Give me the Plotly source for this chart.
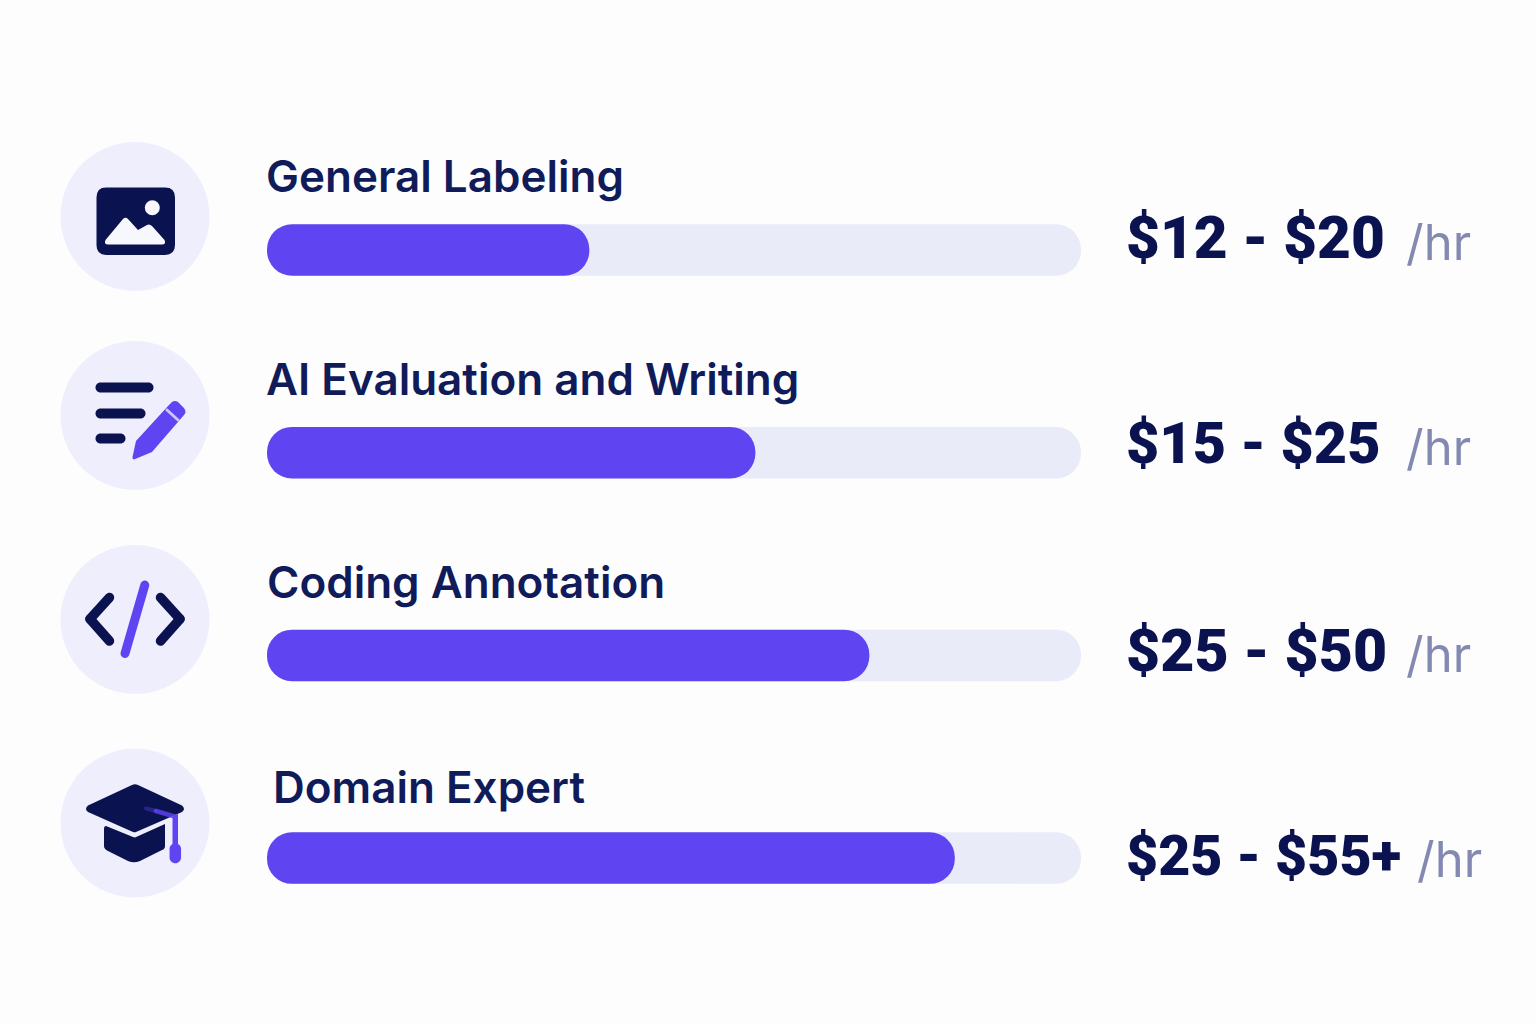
import re
import plotly.graph_objects as go

categories = ["General Labeling", "AI Evaluation and Writing", "Coding Annotation", "Domain Expert"]
fill_values = [39.6, 60.0, 74.0, 84.5]
track_values = [100, 100, 100, 100]
bar_base = [0, 0, 0, 0]
pay_ranges = ["$12 - $20", "$15 - $25", "$25 - $50", "$25 - $55+"]
unit_label = "/hr"

W, H = 1536, 1024
NAVY = "#0B1250"
LABEL = "#101B5A"
PURPLE = "#5F45F2"
TRACK = "#E9EBF8"
DISC = "#EFEEFC"
GREY = "#8489B2"
BG = "#FDFDFE"

# layout (pixels)
TRACK_L, TRACK_R = 267, 1081
ROW0, ROW_STEP, BAR_H = 250, 202.7, 51.5


def px(x):
    return x / W


def py(y):
    return 1 - y / H


def to_paper(d):
    toks = re.findall(r"[MLCQZ]|-?\d+\.?\d*", d)
    out, is_x = [], True
    for t in toks:
        if t in "MLCQZ":
            out.append(t)
            is_x = True
        else:
            v = float(t)
            out.append(f"{px(v) if is_x else py(v):.5f}")
            is_x = not is_x
    s = ""
    for t in out:
        s += t if t in "MLCQZ" else t + " "
    return s


def path(d, color, opacity=1.0):
    return dict(type="path", xref="paper", yref="paper", path=to_paper(d), fillcolor=color,
                line=dict(width=0), layer="above", opacity=opacity)


def circle(cx, cy, r, color):
    return dict(type="circle", xref="paper", yref="paper", x0=px(cx - r), x1=px(cx + r),
                y0=py(cy + r), y1=py(cy - r), fillcolor=color, line=dict(width=0), layer="above")


def pill(x0, y0, x1, y1, w, color, opacity=1.0):
    dx, dy = x1 - x0, y1 - y0
    n = (dx * dx + dy * dy) ** 0.5
    ux, uy = dx / n, dy / n
    nx, ny = -uy * w / 2, ux * w / 2
    ex, ey = ux * w / 2, uy * w / 2
    k = 0.55
    d = (f"M {x0+nx} {y0+ny} L {x1+nx} {y1+ny} "
         f"C {x1+nx+ex*k} {y1+ny+ey*k} {x1+ex+nx*k} {y1+ey+ny*k} {x1+ex} {y1+ey} "
         f"C {x1+ex-nx*k} {y1+ey-ny*k} {x1-nx+ex*k} {y1-ny+ey*k} {x1-nx} {y1-ny} "
         f"L {x0-nx} {y0-ny} "
         f"C {x0-nx-ex*k} {y0-ny-ey*k} {x0-ex-nx*k} {y0-ey-ny*k} {x0-ex} {y0-ey} "
         f"C {x0-ex+nx*k} {y0-ey+ny*k} {x0+nx-ex*k} {y0+ny-ey*k} {x0+nx} {y0+ny} Z")
    return path(d, color, opacity)


shapes = []
for cy in (216.5, 415.5, 619.5, 823):
    shapes.append(circle(135, cy, 74.5, DISC))

# picture icon
shapes.append(path("M 106 187.5 L 165 187.5 Q 175 187.5 175 197.5 L 175 245 Q 175 255 165 255 "
                   "L 106 255 Q 96.5 255 96.5 245 L 96.5 197.5 Q 96.5 187.5 106 187.5 Z", NAVY))
shapes.append(circle(152.3, 207.7, 7.5, "#F7F7FE"))
shapes.append(path("M 105.5 240 L 123 219 Q 125.5 216.5 128 219 L 138 230 L 147 225 Q 149.5 223.5 152 226 "
                   "L 164.5 240 Q 166.5 244.5 162 244.5 L 108 244.5 Q 103.5 244.5 105.5 240 Z", "#F7F7FE"))

# writing icon
shapes.append(pill(100.5, 387.5, 148.5, 387.5, 10, NAVY))
shapes.append(pill(100.5, 413.5, 140.5, 413.5, 10, NAVY))
shapes.append(pill(100.5, 438.5, 120.5, 438.5, 10, NAVY))
shapes.append(path("M 136 441 L 168 406 L 172 402 Q 175 400 178 402 L 184 408 Q 187 412 184 415 "
                   "L 152 452 L 134 459.5 Q 132 459.5 132.5 457 Z", PURPLE))
shapes.append(pill(167, 410, 178, 420, 3, "#C9C6F8"))

# code icon
shapes.append(pill(109.5, 597.5, 90, 619, 9.5, NAVY))
shapes.append(pill(90, 619, 109.5, 641, 9.5, NAVY))
shapes.append(pill(160.5, 597.5, 180, 619, 9.5, NAVY))
shapes.append(pill(180, 619, 160.5, 641, 9.5, NAVY))
shapes.append(pill(144.8, 585, 125, 653.5, 9, PURPLE))

# graduation cap icon
shapes.append(path("M 104 829 Q 104 826 106 826 L 133 837 L 135 837.5 L 165 824 L 165 846 Q 165 849 162 850 "
                   "L 140 861 Q 134 863.5 128 861 L 108 851 Q 104 849 104 846 Z", NAVY))
shapes.append(path("M 132 785 Q 135 783.5 138 785 L 182 805.5 Q 186 809 182 812 L 136 832 Q 135 832.5 133 832 "
                   "L 88 812 Q 84 809 88 805.5 Z", NAVY))
shapes.append(pill(146, 808.5, 156, 811, 4, PURPLE, 0.35))
shapes.append(pill(156, 811, 173, 816, 4.5, PURPLE, 0.8))
shapes.append(path("M 172.5 815 L 178 814 L 178 846 L 172.5 846 Z", PURPLE))
shapes.append(pill(175.3, 849, 175.3, 857.5, 11.5, PURPLE))

fig = go.Figure()
fig.add_bar(y=categories, x=track_values, base=bar_base, orientation="h",
            marker=dict(color=TRACK, cornerradius=25.5, line_width=0),
            width=BAR_H / ROW_STEP, hoverinfo="skip", showlegend=False)
# fill sits on overlaid axes so that its own ends are rounded
fig.add_bar(y=categories, x=fill_values, base=bar_base, orientation="h",
            marker=dict(color=PURPLE, cornerradius=25.5, line_width=0),
            width=BAR_H / ROW_STEP, hoverinfo="skip", showlegend=False, xaxis="x2", yaxis="y2")

label_x = [267, 267, 268, 274]
label_y = [176, 379, 582, 787]
value_y = [238, 443, 650, 856]
value_size = [58.5, 57.5, 59, 55.5]
unit_x = [1407, 1407, 1407, 1418]
unit_y = [242, 447, 654, 859]

annotations = []
for i, c in enumerate(categories):
    annotations.append(dict(x=px(label_x[i]), y=py(label_y[i]), xref="paper", yref="paper", text=c, showarrow=False,
                            xanchor="left", yanchor="middle", xshift=-3,
                            font=dict(family="Inter", size=44, color=LABEL, weight=600)))
    annotations.append(dict(x=px(1127), y=py(value_y[i]), xref="paper", yref="paper", text=pay_ranges[i], showarrow=False,
                            xanchor="left", yanchor="middle", xshift=-3,
                            font=dict(family="Roboto", size=value_size[i], color=NAVY, weight=900)))
    annotations.append(dict(x=px(unit_x[i]), y=py(unit_y[i]), xref="paper", yref="paper", text=unit_label, showarrow=False,
                            xanchor="left", yanchor="middle", xshift=-3,
                            font=dict(family="Inter", size=49, color=GREY, weight=400)))

xax = dict(domain=[px(TRACK_L), px(TRACK_R)], range=[0, 100], visible=False, fixedrange=True)
yax = dict(domain=[0, 1], type="category", categoryorder="array", categoryarray=categories,
           range=[(H - ROW0) / ROW_STEP, -ROW0 / ROW_STEP], visible=False, fixedrange=True)
fig.update_layout(
    width=W, height=H, margin=dict(l=0, r=0, t=0, b=0), autosize=False,
    barmode="overlay", paper_bgcolor=BG, plot_bgcolor="rgba(0,0,0,0)",
    xaxis=xax, yaxis=yax,
    xaxis2=dict(xax, overlaying="x", anchor="y2"),
    yaxis2=dict(yax, overlaying="y", anchor="x2"),
    shapes=shapes, annotations=annotations, showlegend=False,
)
fig.write_html("out.html", config={"displayModeBar": False},
               post_script="document.body.style.margin='0';document.body.style.background='#FDFDFE';document.documentElement.style.overflow='hidden';")
